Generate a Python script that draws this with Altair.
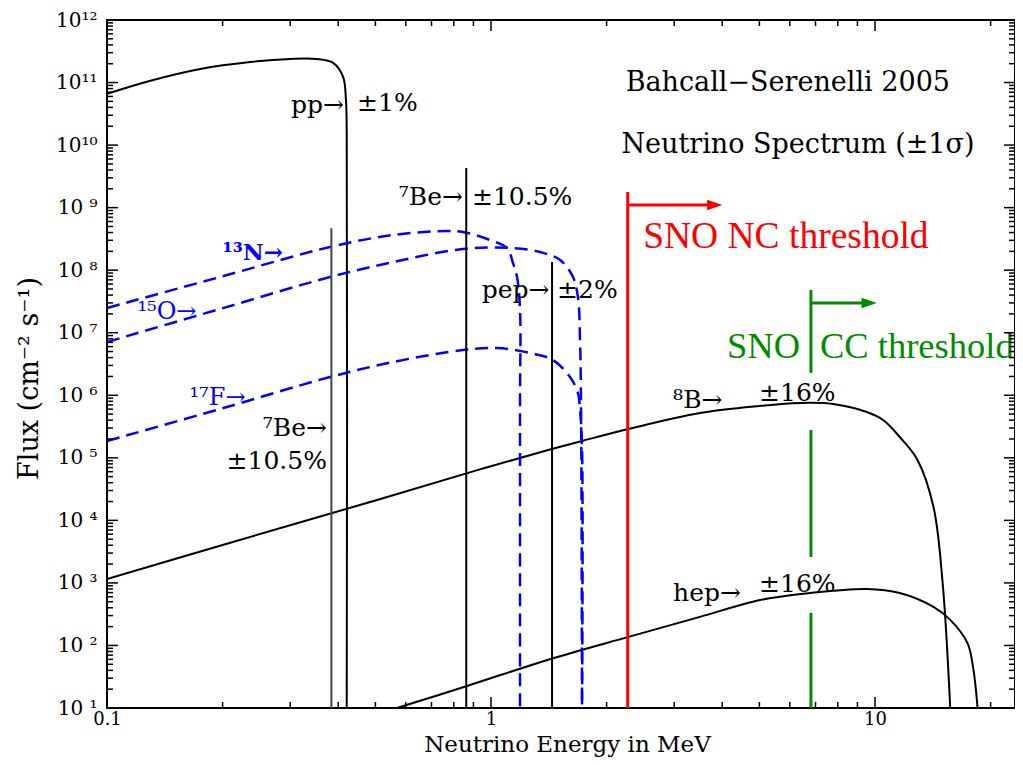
import math
import altair as alt
import pandas as pd

# ---------------- data ----------------
# continuum spectra (E in MeV, flux in cm^-2 s^-1 MeV^-1)
pp_E = [0.100, 0.129, 0.175, 0.236, 0.300, 0.352, 0.388, 0.412, 0.419, 0.421, 0.421]
pp_F = [6.6e10, 1.06e11, 1.65e11, 2.13e11, 2.38e11, 2.38e11, 2.06e11, 1.23e11, 5.3e10, 1.5e10, 10]

b8_E = [0.100, 0.200, 0.505, 0.94, 1.44, 1.726, 2.28, 3.50, 5.00, 6.38, 7.78, 9.52, 10.5, 11.6, 12.9, 14.2, 15.0, 15.7]
b8_F = [1156, 4.05e3, 2.12e4, 6.6e4, 1.38e5, 1.86e5, 2.89e5, 5.21e5, 6.75e5, 7.53e5, 7.26e5, 5.41e5, 4.03e5,
        2.15e5, 9.25e4, 1.64e4, 1.0e3, 10]

hep_E = [0.569, 0.866, 1.43, 2.28, 3.50, 5.02, 6.78, 9.52, 11.6, 14.2, 15.7, 17.4, 18.0, 18.5]
hep_F = [10, 22.5, 60.8, 137, 286, 533, 690, 800, 690, 413, 256, 110, 45.3, 10]

n13_E = [0.100, 0.197, 0.381, 0.556, 0.767, 0.845, 0.994, 1.101, 1.141, 1.169, 1.190, 1.190, 1.190]
n13_F = [2.49e7, 7.78e7, 2.35e8, 3.66e8, 4.24e8, 4.08e8, 3.04e8, 2.26e8, 1.30e8, 7.78e7, 2.31e7, 7.53e5, 10]

o15_E = [0.100, 0.197, 0.381, 0.556, 0.845, 1.141, 1.342, 1.513, 1.635, 1.684, 1.706, 1.716, 1.726]
o15_F = [7.11e6, 2.40e7, 7.78e7, 1.35e8, 2.18e8, 2.26e8, 1.95e8, 1.46e8, 7.78e7, 3.73e7, 6.86e6, 5.82e5, 10]

f17_E = [0.100, 0.197, 0.381, 0.556, 0.845, 1.037, 1.264, 1.450, 1.606, 1.684, 1.706, 1.726, 1.726]
f17_F = [1.86e5, 6.04e5, 1.96e6, 3.40e6, 5.30e6, 5.70e6, 4.74e6, 3.66e6, 1.96e6, 1.09e6, 5.82e5, 1.49e5, 10]

# line sources (7Be 0.384, 7Be 0.862, pep 1.442)
line_E = [0.384, 0.862, 1.442]
line_top = [4.7e8, 4.3e9, 1.35e8]
line_color = ["#444444", "black", "black"]

# thresholds
nc_E = 2.27
nc_top = 1.78e9
nc_arrow_F = 1.10e9
nc_arrow_tip = 4.0
cc_E = 6.81
cc_arrow_F = 2.99e7
cc_arrow_tip = 10.1
cc_seg_lo = [4.82e7, 2.79e5, 331]
cc_seg_hi = [2.28e6, 2.60e3, 10]

# axis ticks
x_major = [0.1, 1, 10]
x_labels = ["0.1", "1", "10"]
x_minor = [0.2, 0.3, 0.4, 0.5, 0.6, 0.7, 0.8, 0.9, 2, 3, 4, 5, 6, 7, 8, 9, 20]
y_major = [1e1, 1e2, 1e3, 1e4, 1e5, 1e6, 1e7, 1e8, 1e9, 1e10, 1e11, 1e12]
y_labels = ["10 ¹", "10 ²", "10 ³", "10 ⁴", "10 ⁵", "10 ⁶", "10 ⁷", "10 ⁸", "10 ⁹", "10¹⁰", "10¹¹", "10¹²"]
minor_mult = [2, 3, 4, 5, 6, 7, 8, 9]

# annotations: text, E, F
lab_left_text = ["±1%", "±10.5%", "±2%", "⁸B→", "±16%", "hep→", "±16%"]
lab_left_E = [0.448, 0.892, 1.486, 2.98, 4.99, 2.98, 4.99]
lab_left_F = [4.7e10, 1.48e9, 4.8e7, 8.4e5, 1.09e6, 690, 962]

lab_right_text = ["pp→", "⁷Be→", "pep→", "⁷Be→", "±10.5%"]
lab_right_E = [0.414, 0.845, 1.42, 0.374, 0.374]
lab_right_F = [4.4e10, 1.48e9, 4.8e7, 3.0e5, 8.9e4]

lab_title_text = ["Bahcall−Serenelli 2005", "Neutrino Spectrum (±1σ)"]
lab_title_E = [5.93, 6.30]
lab_title_F = [9.8e10, 1.0e10]

lab_blue_text = ["¹⁵O→", "¹⁷F→"]
lab_blue_E = [0.120, 0.164]
lab_blue_F = [2.15e7, 9.06e5]
lab_n13_text = ["¹³N→"]
lab_n13_E = [0.200]
lab_n13_F = [1.88e8]

# ---------------- chart ----------------
W, H = 908, 688
FONT = "DejaVu Serif"
xs = alt.Scale(type="log", domain=[0.1, 23.15], nice=False)
ys = alt.Scale(type="log", domain=[10, 1e12], nice=False)


def lexpr(values, labels):
    parts = [f"abs(log(datum.value) - ({math.log(v)})) < 0.01 ? '{l}'" for v, l in zip(values, labels)]
    return " : ".join(parts) + " : ''"


X = alt.X("E:Q", scale=xs, axis=alt.Axis(values=x_major, labelExpr=lexpr(x_major, x_labels),
                                          ticks=False, grid=False, domain=False,
                                          title="Neutrino Energy in MeV", labelPadding=2,
                                          labelFontSize=18,
                                          titleX=460, titleY=43, titleBaseline="alphabetic",
                                          titleFontSize=23, labelFlush=False))
Y = alt.Y("F:Q", scale=ys, axis=alt.Axis(values=y_major, labelExpr=lexpr(y_major, y_labels),
                                          ticks=False, grid=False, domain=False,
                                          title="Flux (cm⁻² s⁻¹)", labelPadding=10,
                                          titleX=-70, titleY=358, titleBaseline="alphabetic",
                                          labelFlush=False))


def df(E, F, name=""):
    return pd.DataFrame({"E": E, "F": F, "s": name})


black_curves = pd.concat([df(pp_E, pp_F, "pp"), df(b8_E, b8_F, "8B"), df(hep_E, hep_F, "hep")])
blue_curves = pd.concat([df(n13_E, n13_F, "13N"), df(o15_E, o15_F, "15O"), df(f17_E, f17_F, "17F")])

layers = []
layers.append(alt.Chart(black_curves).mark_line(color="black", strokeWidth=2, clip=True, interpolate="catmull-rom")
              .encode(x=X, y=Y, detail="s:N", order=alt.Order("idx:Q"))
              .transform_window(idx="row_number()", groupby=["s"]))
layers.append(alt.Chart(blue_curves).mark_line(color="#0000ff", strokeWidth=2.5, strokeDash=[13, 7], clip=True,
                                               interpolate="catmull-rom")
              .encode(x=X, y=Y, detail="s:N", order=alt.Order("idx:Q"))
              .transform_window(idx="row_number()", groupby=["s"]))

lines_df = pd.DataFrame({"E": line_E, "F": [10] * len(line_E), "F2": line_top, "c": line_color})
layers.append(alt.Chart(lines_df).mark_rule(strokeWidth=2)
              .encode(x=X, y=Y, y2="F2:Q", color=alt.Color("c:N", scale=None)))

# thresholds
layers.append(alt.Chart(pd.DataFrame({"E": [nc_E], "F": [10], "F2": [nc_top]}))
              .mark_rule(color="#ff0000", strokeWidth=3).encode(x=X, y=Y, y2="F2:Q"))
layers.append(alt.Chart(pd.DataFrame({"E": [nc_E], "E2": [nc_arrow_tip * 0.97], "F": [nc_arrow_F]}))
              .mark_rule(color="#ff0000", strokeWidth=3).encode(x=X, x2="E2:Q", y=Y))
cc_df = pd.DataFrame({"E": [cc_E] * 3, "F": cc_seg_hi, "F2": cc_seg_lo})
layers.append(alt.Chart(cc_df).mark_rule(color="#008c00", strokeWidth=3).encode(x=X, y=Y, y2="F2:Q"))
layers.append(alt.Chart(pd.DataFrame({"E": [cc_E], "E2": [cc_arrow_tip * 0.97], "F": [cc_arrow_F]}))
              .mark_rule(color="#008c00", strokeWidth=3).encode(x=X, x2="E2:Q", y=Y))
arrow_shape = "M-1,-0.7L1,0L-1,0.7Z"
layers.append(alt.Chart(pd.DataFrame({"E": [nc_arrow_tip / 1.046], "F": [nc_arrow_F]}))
              .mark_point(shape=arrow_shape, filled=True, size=230, color="#ff0000", opacity=1, strokeWidth=0)
              .encode(x=X, y=Y))
layers.append(alt.Chart(pd.DataFrame({"E": [cc_arrow_tip / 1.046], "F": [cc_arrow_F]}))
              .mark_point(shape=arrow_shape, filled=True, size=230, color="#008c00", opacity=1, strokeWidth=0)
              .encode(x=X, y=Y))

# threshold texts
layers.append(alt.Chart(pd.DataFrame({"E": [2.49], "F": [3.4e8], "t": ["SNO NC threshold"]}))
              .mark_text(font="Liberation Serif", fontSize=37.5, color="#ff0000", align="left", baseline="middle")
              .encode(x=X, y=Y, text="t:N"))
layers.append(alt.Chart(pd.DataFrame({"E": [6.38], "F": [5.9e6], "t": ["SNO"]}))
              .mark_text(font="Liberation Serif", fontSize=36.5, color="#008c00", align="right", baseline="middle")
              .encode(x=X, y=Y, text="t:N"))
layers.append(alt.Chart(pd.DataFrame({"E": [7.19], "F": [5.9e6], "t": ["CC threshold"]}))
              .mark_text(font="Liberation Serif", fontSize=36.5, color="#008c00", align="left", baseline="middle")
              .encode(x=X, y=Y, text="t:N"))

# black annotations
layers.append(alt.Chart(pd.DataFrame({"E": lab_left_E, "F": lab_left_F, "t": lab_left_text}))
              .mark_text(font=FONT, fontSize=25, color="black", align="left", baseline="middle")
              .encode(x=X, y=Y, text="t:N"))
layers.append(alt.Chart(pd.DataFrame({"E": lab_right_E, "F": lab_right_F, "t": lab_right_text}))
              .mark_text(font=FONT, fontSize=25, color="black", align="right", baseline="middle")
              .encode(x=X, y=Y, text="t:N"))
layers.append(alt.Chart(pd.DataFrame({"E": lab_title_E, "F": lab_title_F, "t": lab_title_text}))
              .mark_text(font=FONT, fontSize=27, color="black", align="center", baseline="middle")
              .encode(x=X, y=Y, text="t:N"))
layers.append(alt.Chart(pd.DataFrame({"E": lab_blue_E, "F": lab_blue_F, "t": lab_blue_text}))
              .mark_text(font=FONT, fontSize=24, color="#0000ff", align="left", baseline="middle")
              .encode(x=X, y=Y, text="t:N"))
layers.append(alt.Chart(pd.DataFrame({"E": lab_n13_E, "F": lab_n13_F, "t": lab_n13_text}))
              .mark_text(font=FONT, fontSize=23, fontWeight="bold", color="#0000ff", align="left", baseline="middle")
              .encode(x=X, y=Y, text="t:N"))

# inward ticks on all four sides
def xticks(vals, length):
    d = pd.DataFrame({"E": vals})
    bot = alt.Chart(d).mark_rule(color="black", strokeWidth=1.5).encode(
        x=X, y=alt.value(H), y2=alt.value(H - length))
    top = alt.Chart(d).mark_rule(color="black", strokeWidth=1.5).encode(
        x=X, y=alt.value(0), y2=alt.value(length))
    return [bot, top]


def yticks(vals, length):
    d = pd.DataFrame({"F": vals})
    left = alt.Chart(d).mark_rule(color="black", strokeWidth=1.5).encode(
        y=Y, x=alt.value(0), x2=alt.value(length))
    right = alt.Chart(d).mark_rule(color="black", strokeWidth=1.5).encode(
        y=Y, x=alt.value(W), x2=alt.value(W - length))
    return [left, right]


y_minor = [m * v for v in y_major[:-1] for m in minor_mult]
layers += xticks(x_major, 11) + xticks(x_minor, 6) + yticks(y_major, 11) + yticks(y_minor, 6)

chart = alt.layer(*layers).properties(
    width=W, height=H,
    autosize=alt.AutoSizeParams(type="none"),
    padding={"left": 99, "top": 12, "right": 0, "bottom": 49},
).configure_view(stroke="black", strokeWidth=2).configure_axis(
    labelFont=FONT, labelFontSize=20, labelColor="black",
    titleFont=FONT, titleFontSize=27, titleFontWeight="normal", titleColor="black",
)

chart.save("out.html", embed_options={"renderer": "svg", "actions": False})
